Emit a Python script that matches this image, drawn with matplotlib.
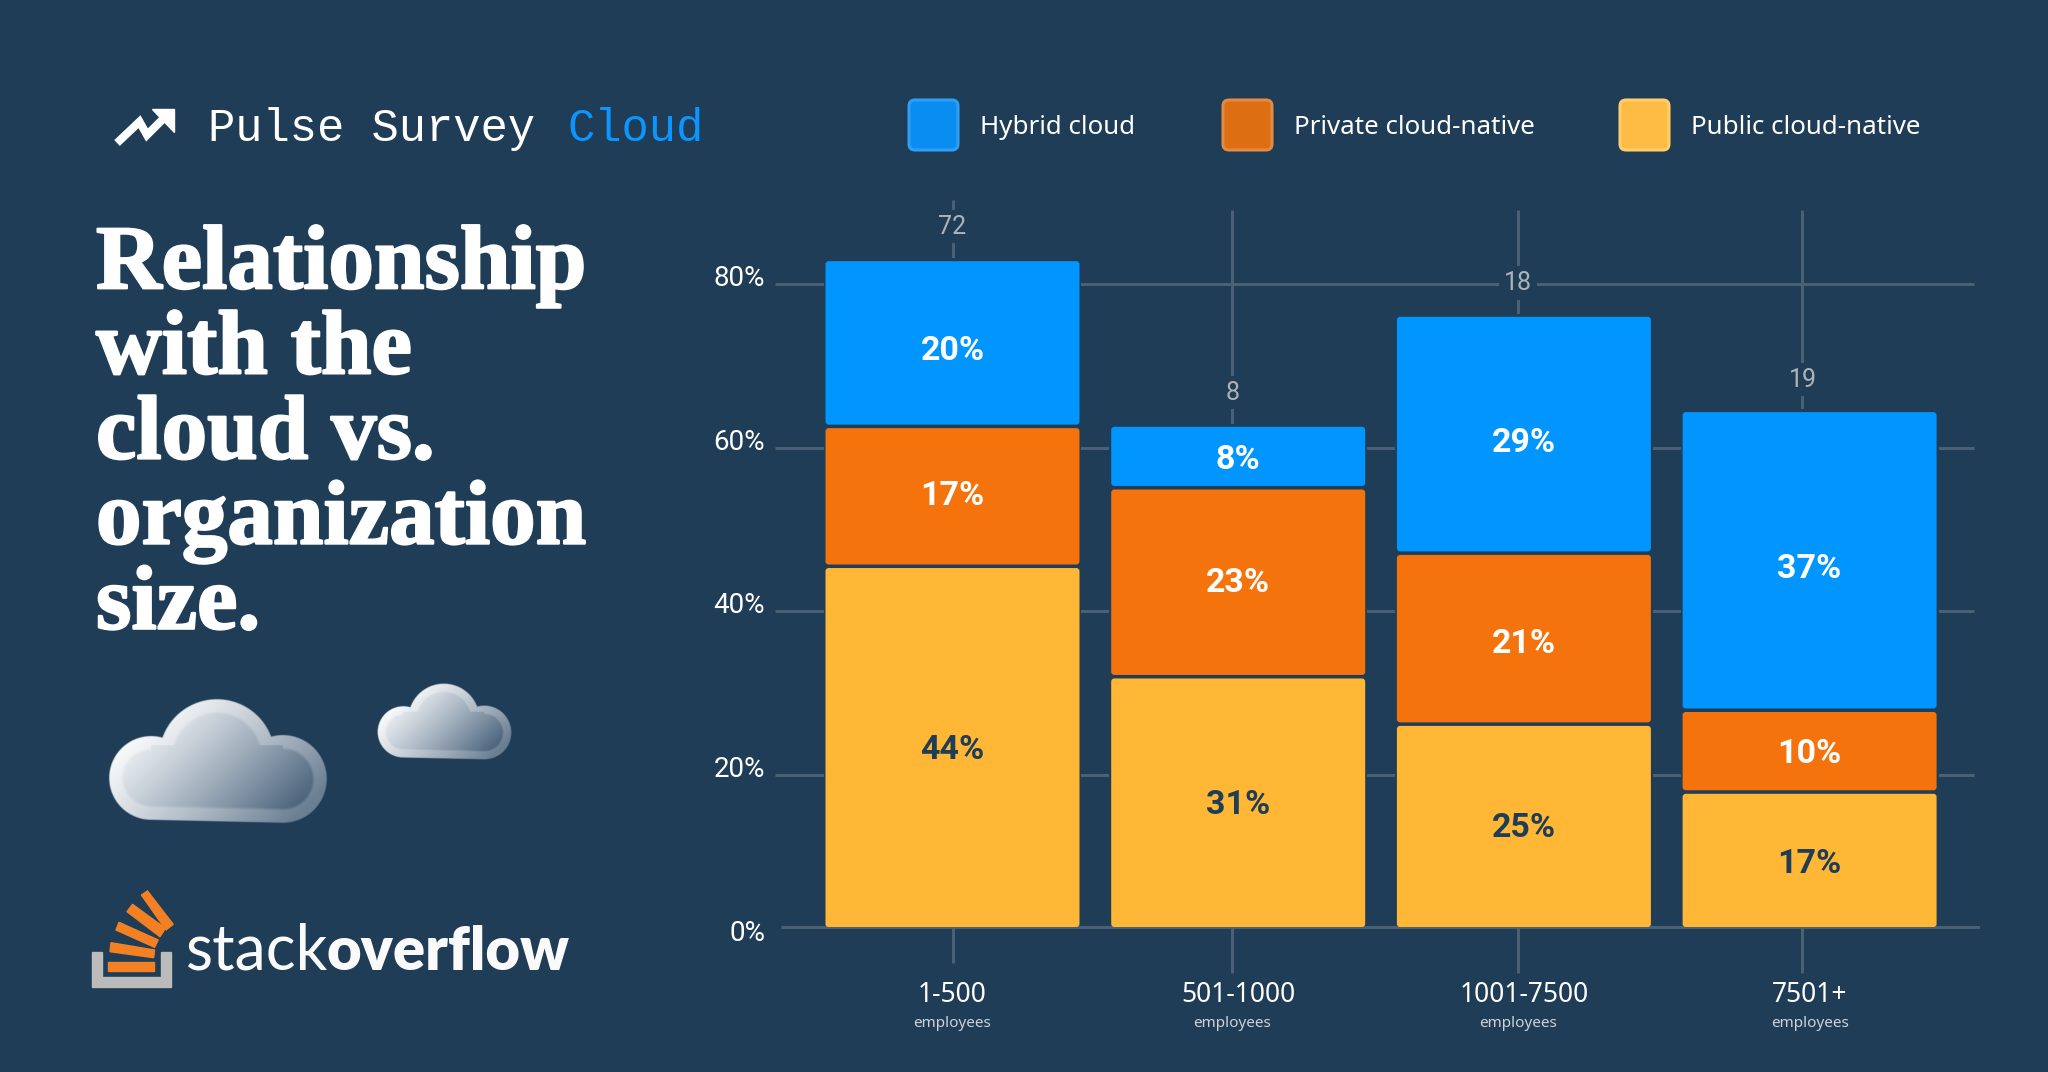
import numpy as np
import matplotlib
matplotlib.use("Agg")
import matplotlib.pyplot as plt
from matplotlib.patches import FancyBboxPatch, Polygon
import matplotlib.patheffects as pe

# values (%), printed labels are rounded differently
sizes = ["1-500", "501-1000", "1001-7500", "7501+"]
public_cloud = [44.1, 30.6, 24.8, 16.5]
private_cloud = [17.1, 23.1, 20.9, 10.0]
hybrid_cloud = [20.2, 7.45, 28.9, 36.45]
public_labels = ["44%", "31%", "25%", "17%"]
private_labels = ["17%", "23%", "21%", "10%"]
hybrid_labels = ["20%", "8%", "29%", "37%"]
counts = ["72", "8", "18", "19"]
count_y = [87.0, 66.7, 80.1, 68.3]
y_ticks = [0, 20, 40, 60, 80]
series_names = ["Hybrid cloud", "Private cloud-native", "Public cloud-native"]
title_lines = ["Relationship", "with the", "cloud vs.", "organization", "size."]

BG = "#1f3d56"
BLUE = "#0095ff"
ORANGE = "#f4730c"
YELLOW = "#ffb735"
GRID = "#4a6074"
SANS = "Noto Sans"

fig = plt.figure(figsize=(20.48, 10.72), dpi=100, facecolor=BG)

# overlay in pixel coords for header, title, clouds, logo
ov = fig.add_axes([0, 0, 1, 1])
ov.set_axis_off()


def cloud_image(scale):
    n = int(230 * scale * 2)
    px = np.linspace(105, 331, n)
    py = np.linspace(695, 827, int(n * 132 / 226))
    x, y = np.meshgrid(px, py)
    circles = [(217, 757, 58), (151, 778, 42), (283, 779, 44)]
    d = np.min([np.hypot(x - a, y - b) - r for a, b, r in circles], axis=0)
    bottom = 820 + (x - 151) * 3 / 132
    body = np.where((x > 151) & (x < 283) & (y > 745), y - bottom, 99)
    d = np.minimum(d, body)
    t = np.clip(((x - 135) + (y - 715)) * 0.0038, 0, 1) ** 1.2
    t = t[..., None]
    outer = (1 - t) * np.array([1.0, 1.0, 1.0]) + t * np.array([0.42, 0.50, 0.58])
    inner = (1 - t) * np.array([0.96, 0.97, 0.98]) + t * np.array([0.27, 0.37, 0.47])
    mix = np.clip((-d - 12) / 3, 0, 1)[..., None]
    rgb = outer * (1 - mix) + inner * mix
    alpha = np.clip(-d / 1.0 + 0.5, 0, 1)[..., None]
    return np.concatenate([rgb, alpha], axis=2)


ov.imshow(cloud_image(1), extent=(105, 331, 827, 695), aspect="auto", interpolation="bilinear")
ov.imshow(cloud_image(0.62), extent=(374.5, 513.5, 762.5, 681.5), aspect="auto", interpolation="bilinear")
ov.set_xlim(0, 2048)
ov.set_ylim(1072, 0)

# trend icon
ov.plot([117, 139.5, 147, 165], [143, 121.7, 135, 117], color="white", lw=5.8,
        solid_joinstyle="miter", solid_capstyle="butt")
ov.add_patch(Polygon([(151.5, 109), (174, 109), (174, 131.7)], color="white"))

# header
ov.text(208, 141, "Pulse Survey", family="Liberation Mono", fontsize=32.8, color="white", va="baseline")
ov.text(568, 141, "Cloud", family="Liberation Mono", fontsize=32.8, color="#0a95ff", va="baseline")

# legend
for x0, col, edge, tx, name in [(908, "#0a8df0", "#2f9ff5", 980, series_names[0]),
                                (1222, "#dd6e12", "#e38a45", 1294, series_names[1]),
                                (1619, "#fdbd45", "#ffcd6e", 1691, series_names[2])]:
    ov.add_patch(FancyBboxPatch((x0 + 1, 100), 49, 50, boxstyle="round,pad=0,rounding_size=6",
                                facecolor=col, edgecolor=edge, lw=2.2))
    ov.text(tx, 134, name, family=SANS, fontsize=18.7, color="white", va="baseline")

# title
for i, line in enumerate(title_lines):
    ov.text(96, 288.3 + 85.1 * i, line, family="Liberation Serif", weight="bold", fontsize=65.5,
            color="white", va="baseline",
            path_effects=[pe.withStroke(linewidth=1.6, foreground="white")])

# logo
ov.add_patch(Polygon([(92, 952), (102, 952), (102, 977), (161, 977), (161, 952), (171, 952),
                      (171, 987), (92, 987)], color="#bcbbbb"))
logo_bars = [
    [(108, 962), (154, 962), (154, 971), (108, 971)],
    [(111, 942.7), (154.6, 950), (153.6, 957.7), (110, 951.7)],
    [(119, 922.3), (158.2, 940), (154.6, 947.3), (116, 930)],
    [(132.5, 904.3), (165.4, 928.3), (160, 936.7), (127, 911.7)],
    [(147.5, 891), (173.2, 924.3), (166, 930), (141.4, 895)],
]
for pts in logo_bars:
    ov.add_patch(Polygon(pts, color="#f48024"))
ov.text(186, 970, "stack", family="Lato", weight="normal", fontsize=45, color="#fafafa", va="baseline")
ov.text(326, 970, "overflow", family="Lato", weight="heavy", fontsize=43, color="#fafafa", va="baseline")

# chart axes: one x unit is 285.7 px, one y unit 8.18 px
ax = fig.add_axes([775 / 2048, 99 / 1072, 1205 / 2048, 778 / 1072])
ax.patch.set_alpha(0)
ax.set_xlim((775 - 952.5) / 285.7, (1980 - 952.5) / 285.7)
ax.set_ylim((938.3 - 973) / 8.18, (938.3 - 195) / 8.18)
for s in ax.spines.values():
    s.set_visible(False)

x = np.arange(len(sizes))
tick_x = [0, 0.98, 1.98, 2.975]
employee_x = [0, 0.98, 1.98, 3]
baseline = 1.38  # bars and zero line sit a bit above the true 0
bar_w = 0.889
gap = 0.43

ax.hlines(y_ticks[1:], -0.621, 3.576, color=GRID, lw=2.2, zorder=1)
top_y = [90.3, 89, 89, 89]
low_y = [-3, -4.2, -4.2, -4.2]
ax.vlines(tick_x, low_y, top_y, color=GRID, lw=2.2, zorder=1, clip_on=False)

for xi, lab, yi in zip(tick_x, counts, count_y):
    ax.text(xi, yi, lab, family="Roboto", fontsize=18, color="#aeb3b7", ha="center",
            va="center", zorder=1.2, bbox=dict(facecolor=BG, edgecolor="none", pad=3.5))

totals = np.array(public_cloud) + np.array(private_cloud) + np.array(hybrid_cloud)
ax.bar(x, totals + 0.4, width=bar_w + 0.014, bottom=baseline, color=BG, zorder=1.5)
ax.hlines(baseline, -0.60, 3.596, color=GRID, lw=2.2, zorder=2)

bottom = np.full(4, baseline)
# labels are not quite centred in the segments
label_nudge = [[-0.4, -0.4, -0.35, -0.5],
               [0.0, -0.1, -0.6, -0.4],
               [-0.85, -0.3, -1.0, -0.9]]
for j, (vals, labs, col, tcol) in enumerate([(public_cloud, public_labels, YELLOW, BG),
                                             (private_cloud, private_labels, ORANGE, "white"),
                                             (hybrid_cloud, hybrid_labels, BLUE, "white")]):
    for i, v in enumerate(vals):
        y0 = bottom[i] + (gap / 2 if j > 0 else 0)
        h = v - (gap / 2 if j > 0 else 0) - (gap / 2 if j < 2 else 0)
        ax.add_patch(FancyBboxPatch((x[i] - bar_w / 2, y0), bar_w, h,
                                    boxstyle="round,pad=0,rounding_size=0.011",
                                    mutation_aspect=285.7 / 8.18,
                                    facecolor=col, edgecolor="none", zorder=3))
        ym = bottom[i] + v / 2 + label_nudge[j][i]
        ax.text(x[i], ym, labs[i], family="Roboto", weight="bold", fontsize=24.5, color=tcol,
                ha="center", va="center", zorder=4)
    bottom = bottom + np.array(vals)

# tick labels sit slightly above their gridlines
ax.set_yticks(np.array(y_ticks) + 1.0, [f"{v}%" for v in y_ticks])
ax.set_xticks(x, sizes)
ax.tick_params(axis="y", length=0, pad=7, labelcolor="white")
ax.tick_params(axis="x", length=0, pad=6, labelcolor="white")
for lab in ax.get_yticklabels():
    lab.set_family("Roboto")
    lab.set_fontsize(20)
for lab in ax.get_xticklabels():
    lab.set_family(SANS)
    lab.set_fontsize(19)

for xi in employee_x:
    ax.text(xi, -10.45, "employees", family=SANS, fontsize=11, color="#cdd3d8", ha="center",
            va="center", clip_on=False)

fig.savefig("out.png", dpi=100, facecolor=BG)
